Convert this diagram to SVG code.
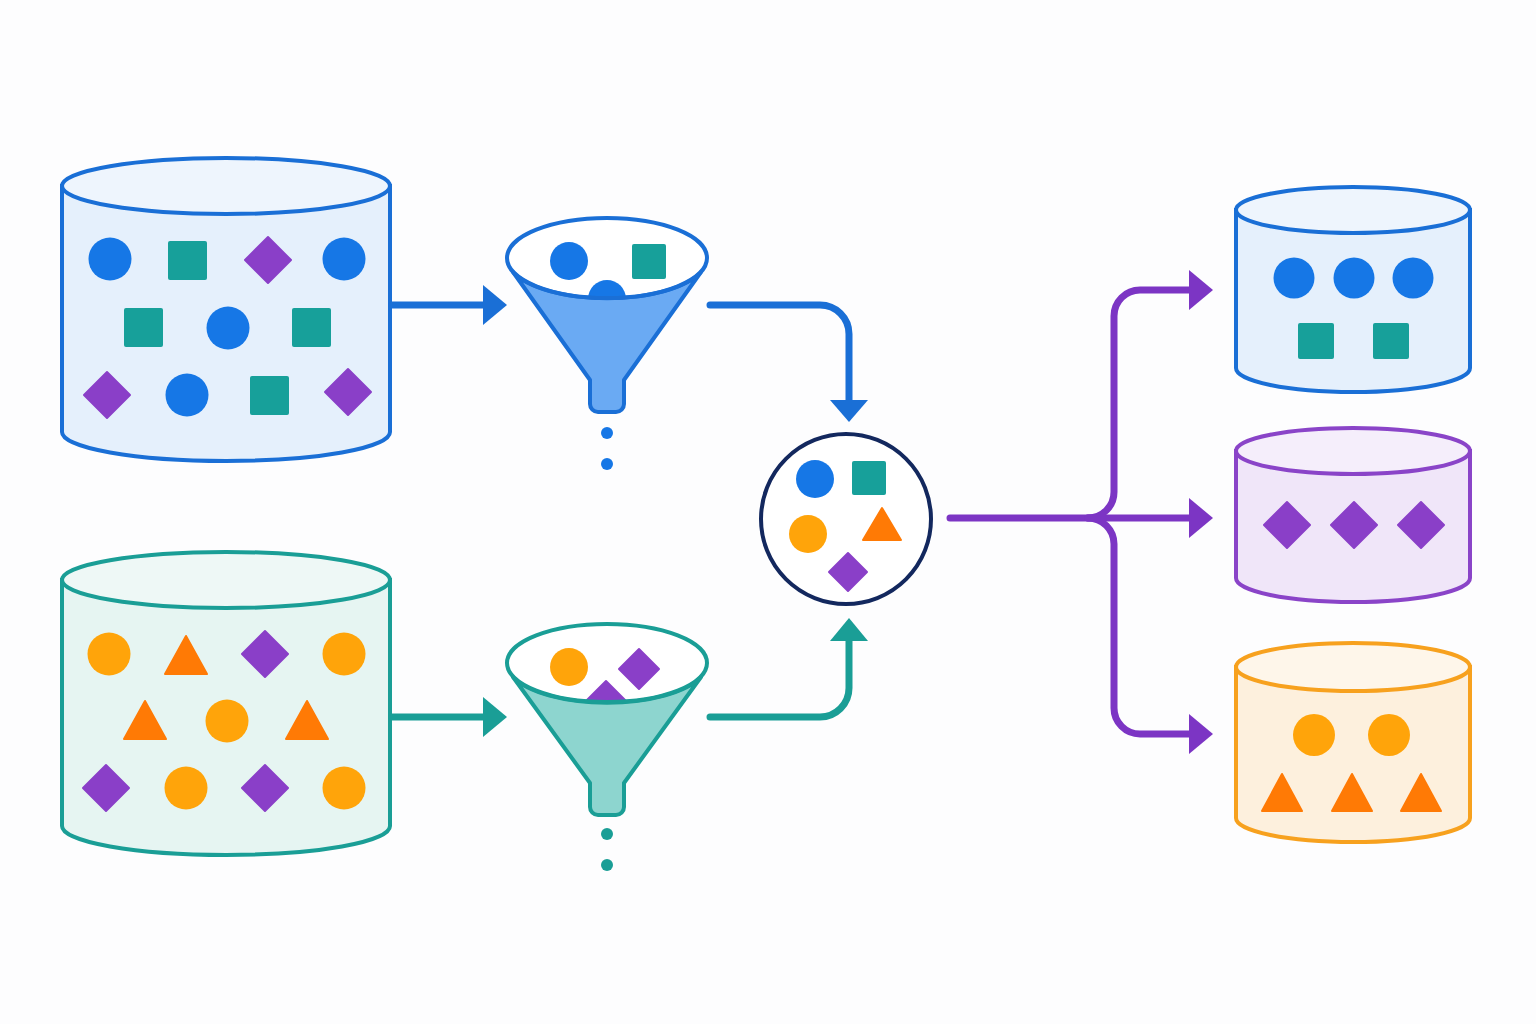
<svg xmlns="http://www.w3.org/2000/svg" width="1536" height="1024" viewBox="0 0 1536 1024">
<style>
.cb{fill:#1677e6}
.sq{fill:#17a09a}
.dm{fill:#8a3fc8;stroke:#8a3fc8;stroke-width:2;stroke-linejoin:round}
.co{fill:#ffa40a}
.tr{fill:#ff7a05;stroke:#ff7a05;stroke-width:2;stroke-linejoin:round}
.cyl-blue{stroke:#1a6fd6;stroke-width:4}
.cyl-teal{stroke:#1a9e96;stroke-width:4}
.cyl-purple{stroke:#8a44c8;stroke-width:4}
.cyl-orange{stroke:#f7a11e;stroke-width:4}
.ln{fill:none;stroke-width:7;stroke-linecap:round;stroke-linejoin:round}
</style>
<rect width="1536" height="1024" fill="#fdfdfe"/>

<g id="source-blue">
  <path class="cyl-blue" fill="#e5f0fc" d="M62 186 V432 A164 29 0 0 0 390 432 V186 Z"/>
  <ellipse class="cyl-blue" fill="#eef5fd" cx="226" cy="186" rx="164" ry="28"/>
  <circle class="cb" cx="110" cy="259" r="21.5"/>
  <rect class="sq" x="168" y="241" width="39" height="39" rx="2"/>
  <polygon class="dm" points="268,237 291,260 268,283 245,260"/>
  <circle class="cb" cx="344" cy="259" r="21.5"/>
  <rect class="sq" x="124" y="308" width="39" height="39" rx="2"/>
  <circle class="cb" cx="228" cy="328" r="21.5"/>
  <rect class="sq" x="292" y="308" width="39" height="39" rx="2"/>
  <polygon class="dm" points="107,372 130,395 107,418 84,395"/>
  <circle class="cb" cx="187" cy="395" r="21.5"/>
  <rect class="sq" x="250" y="376" width="39" height="39" rx="2"/>
  <polygon class="dm" points="348,369 371,392 348,415 325,392"/>
</g>

<g id="source-teal">
  <path class="cyl-teal" fill="#e6f5f2" d="M62 580 V826 A164 29 0 0 0 390 826 V580 Z"/>
  <ellipse class="cyl-teal" fill="#eef8f6" cx="226" cy="580" rx="164" ry="28"/>
  <circle class="co" cx="109" cy="654" r="21.5"/>
  <polygon class="tr" points="186,636 207,674 165,674"/>
  <polygon class="dm" points="265,631 288,654 265,677 242,654"/>
  <circle class="co" cx="344" cy="654" r="21.5"/>
  <polygon class="tr" points="145,701 166,739 124,739"/>
  <circle class="co" cx="227" cy="721" r="21.5"/>
  <polygon class="tr" points="307,701 328,739 286,739"/>
  <polygon class="dm" points="106,765 129,788 106,811 83,788"/>
  <circle class="co" cx="186" cy="788" r="21.5"/>
  <polygon class="dm" points="265,765 288,788 265,811 242,788"/>
  <circle class="co" cx="344" cy="788" r="21.5"/>
</g>

<g id="funnel-blue">
  <ellipse cx="607" cy="258" rx="100" ry="40" fill="#ffffff"/>
  <circle class="cb" cx="569" cy="261" r="19"/>
  <rect class="sq" x="632" y="244" width="34" height="35" rx="2"/>
  <circle class="cb" cx="607" cy="299" r="19"/>
  <path fill="#6aaaf3" stroke="#1a6fd6" stroke-width="4" stroke-linejoin="round" d="M701 272 L624 380 V404 A8 8 0 0 1 616 412 H598 A8 8 0 0 1 590 404 V380 L513 272 A100 40 0 0 0 701 272 Z"/>
  <ellipse cx="607" cy="258" rx="100" ry="40" fill="none" stroke="#1a6fd6" stroke-width="4"/>
  <circle cx="607" cy="433" r="6" fill="#1677e6"/>
  <circle cx="607" cy="464" r="6" fill="#1677e6"/>
</g>

<g id="funnel-teal">
  <ellipse cx="607" cy="663" rx="100" ry="39" fill="#ffffff"/>
  <circle class="co" cx="569" cy="667" r="19"/>
  <polygon class="dm" points="639,649 659,669 639,689 619,669"/>
  <polygon class="dm" points="606,681 626,701 606,721 586,701"/>
  <path fill="#8dd5cf" stroke="#1a9e96" stroke-width="4" stroke-linejoin="round" d="M701 677 L624 783 V807 A8 8 0 0 1 616 815 H598 A8 8 0 0 1 590 807 V783 L513 677 A100 39 0 0 0 701 677 Z"/>
  <ellipse cx="607" cy="663" rx="100" ry="39" fill="none" stroke="#1a9e96" stroke-width="4"/>
  <circle cx="607" cy="834" r="6" fill="#1a9e96"/>
  <circle cx="607" cy="865" r="6" fill="#1a9e96"/>
</g>

<g id="mixer">
  <circle cx="846" cy="519" r="85" fill="#ffffff" stroke="#13285e" stroke-width="4"/>
  <circle class="cb" cx="815" cy="479" r="19"/>
  <rect class="sq" x="852" y="461" width="34" height="34" rx="2"/>
  <circle class="co" cx="808" cy="534" r="19"/>
  <polygon class="tr" points="882,508 901,540 863,540"/>
  <polygon class="dm" points="848,553 867,572 848,591 829,572"/>
</g>

<g id="target-blue">
  <path class="cyl-blue" fill="#e5f0fc" d="M1236 210 V368 A117 24 0 0 0 1470 368 V210 Z"/>
  <ellipse class="cyl-blue" fill="#eef5fd" cx="1353" cy="210" rx="117" ry="23"/>
  <circle class="cb" cx="1294" cy="278" r="20.5"/>
  <circle class="cb" cx="1354" cy="278" r="20.5"/>
  <circle class="cb" cx="1413" cy="278" r="20.5"/>
  <rect class="sq" x="1298" y="323" width="36" height="36" rx="2"/>
  <rect class="sq" x="1373" y="323" width="36" height="36" rx="2"/>
</g>

<g id="target-purple">
  <path class="cyl-purple" fill="#f0e6f9" d="M1236 451 V578 A117 24 0 0 0 1470 578 V451 Z"/>
  <ellipse class="cyl-purple" fill="#f5eefb" cx="1353" cy="451" rx="117" ry="23"/>
  <polygon class="dm" points="1287,502 1310,525 1287,548 1264,525"/>
  <polygon class="dm" points="1354,502 1377,525 1354,548 1331,525"/>
  <polygon class="dm" points="1421,502 1444,525 1421,548 1398,525"/>
</g>

<g id="target-orange">
  <path class="cyl-orange" fill="#fdf0dd" d="M1236 667 V818 A117 24 0 0 0 1470 818 V667 Z"/>
  <ellipse class="cyl-orange" fill="#fef6ea" cx="1353" cy="667" rx="117" ry="24"/>
  <circle class="co" cx="1314" cy="735" r="21"/>
  <circle class="co" cx="1389" cy="735" r="21"/>
  <polygon class="tr" points="1282,774 1302,811 1262,811"/>
  <polygon class="tr" points="1352,774 1372,811 1332,811"/>
  <polygon class="tr" points="1421,774 1441,811 1401,811"/>
</g>

<g id="connectors">
  <path class="ln" stroke="#1a6fd6" stroke-linecap="butt" d="M392 305 H486"/>
  <polygon fill="#1a6fd6" points="483,285 507,305 483,325"/>
  <path class="ln" stroke="#1a9e96" stroke-linecap="butt" d="M392 717 H486"/>
  <polygon fill="#1a9e96" points="483,697 507,717 483,737"/>

  <path class="ln" stroke="#1a6fd6" d="M710 305 H820 A29 29 0 0 1 849 334 V402"/>
  <polygon fill="#1a6fd6" points="830,400 868,400 849,422"/>
  <path class="ln" stroke="#1a9e96" d="M710 717 H820 A29 29 0 0 0 849 688 V638"/>
  <polygon fill="#1a9e96" points="830,641 868,641 849,618"/>

  <path class="ln" stroke="#7c35c4" d="M950 518 H1088 A26 26 0 0 0 1114 492 V316 A26 26 0 0 1 1140 290 H1192"/>
  <path class="ln" stroke="#7c35c4" d="M1088 518 A26 26 0 0 1 1114 544 V708 A26 26 0 0 0 1140 734 H1192"/>
  <path class="ln" stroke="#7c35c4" stroke-linecap="butt" d="M1088 518 H1192"/>
  <polygon fill="#7c35c4" points="1189,270 1213,290 1189,310"/>
  <polygon fill="#7c35c4" points="1189,498 1213,518 1189,538"/>
  <polygon fill="#7c35c4" points="1189,714 1213,734 1189,754"/>
</g>
</svg>
